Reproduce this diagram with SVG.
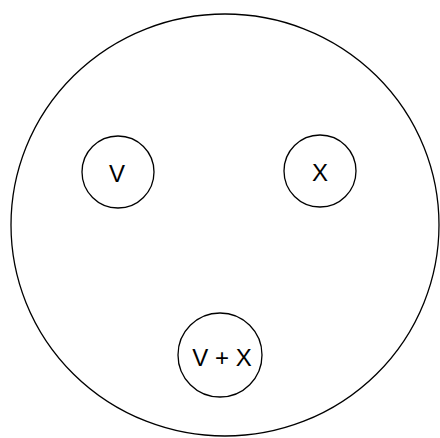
<svg xmlns="http://www.w3.org/2000/svg" width="440" height="438" viewBox="0 0 440 438">
<style>
.n{fill:#fff;stroke:#000;stroke-width:1.3}
.t{font-family:"Liberation Sans",Arial,sans-serif;font-size:24px;fill:#000;text-anchor:middle}
</style>
<rect width="440" height="438" fill="#fff"/>
<g id="outer"><ellipse class="n" cx="225" cy="225" rx="214" ry="211"/></g>
<g id="nodeV"><circle class="n" cx="118" cy="172" r="36"/><text class="t" x="117" y="181.5">V</text></g>
<g id="nodeX"><circle class="n" cx="320" cy="171" r="36"/><text class="t" x="320" y="181">X</text></g>
<g id="nodeVX"><circle class="n" cx="220" cy="355" r="42"/><text class="t" x="222" y="365.5">V + X</text></g>
<g id="connectors"></g>
</svg>
